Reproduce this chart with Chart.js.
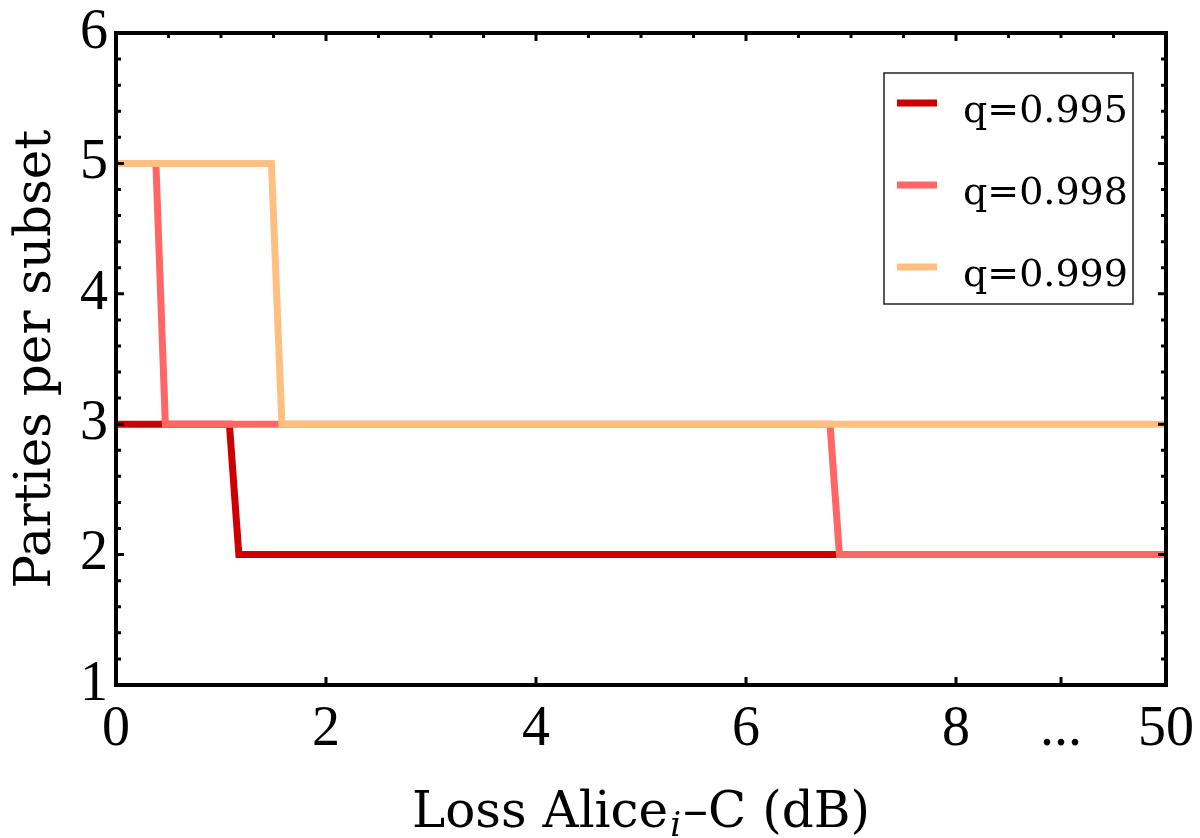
<!DOCTYPE html>
<html>
<head>
<meta charset="UTF-8">
<title>Parties per subset</title>
<script src="https://cdn.jsdelivr.net/npm/chart.js@4.4.1/dist/chart.umd.min.js"></script>
<style>
  html, body { margin: 0; padding: 0; background: #fff; }
  #wrap { width: 1200px; height: 838px; position: relative; }
</style>
</head>
<body>
<div id="wrap"><canvas id="partiesChart"></canvas></div>
<script>
// data (loss in dB, parties per subset)
const seriesLabels = ['q=0.995', 'q=0.998', 'q=0.999'];
const seriesColors = ['#cc0000', '#ff6666', '#ffbf80'];

const lossQ995 = [0, 1.08, 1.17, 50];
const partiesQ995 = [3, 3, 2, 2];

const lossQ998 = [0, 0.38, 0.47, 6.80, 6.89, 50];
const partiesQ998 = [5, 5, 3, 3, 2, 2];

const lossQ999 = [0, 1.48, 1.58, 50];
const partiesQ999 = [5, 5, 3, 3];

// broken axis: 0..8 linear, "..." at 9, 50 dB placed at 10
const xTickValues = [0, 2, 4, 6, 8, 9, 10];
const xTickLabels = ['0', '2', '4', '6', '8', '...', '50'];
const yTickValues = [1, 2, 3, 4, 5, 6];

function toAxis(loss) {
    return loss > 9 ? 10 : loss;
}

function points(xs, ys) {
    return xs.map((x, i) => ({ x: toAxis(x), y: ys[i] }));
}

const serifText = '"DejaVu Serif", serif';
const serifDigits = '"Liberation Serif", serif';

// no extra room for label overhang, the layout padding handles it
function noOverhang(s) {
    s.paddingLeft = 0; s.paddingRight = 0;
    s.paddingTop = 0; s.paddingBottom = 0;
}

// frame + inward ticks on all four sides, drawn over the lines
const framePlugin = {
    id: 'frame',
    afterDatasetsDraw(chart) {
        const ctx = chart.ctx;
        const a = chart.chartArea;
        const xs = chart.scales.x, ys = chart.scales.y;
        ctx.save();
        ctx.strokeStyle = '#000';
        ctx.lineCap = 'butt';

        ctx.lineWidth = 3;
        ctx.beginPath();
        // left / right: minor every 0.2, major every 1
        for (let k = 0; k <= 25; k++) {
            const v = 1 + k * 0.2;
            const py = ys.getPixelForValue(v);
            const len = k % 5 === 0 ? 8 : 5;
            ctx.moveTo(a.left, py); ctx.lineTo(a.left + len, py);
            ctx.moveTo(a.right, py); ctx.lineTo(a.right - len, py);
        }
        // top: minor every 0.5, major at 2,4,6,8
        for (let k = 1; k < 20; k++) {
            const v = k * 0.5;
            const px = xs.getPixelForValue(v);
            const len = (v % 2 === 0) ? 8 : 5;
            ctx.moveTo(px, a.top); ctx.lineTo(px, a.top + len);
        }
        // bottom: only at the labelled positions
        xTickValues.filter(v => v > 0 && v < 10).forEach(v => {
            const px = xs.getPixelForValue(v);
            ctx.moveTo(px, a.bottom); ctx.lineTo(px, a.bottom - 8);
        });
        ctx.stroke();

        ctx.lineWidth = 4;
        ctx.lineJoin = 'miter';
        ctx.strokeRect(a.left, a.top, a.right - a.left, a.bottom - a.top);
        ctx.restore();
    }
};

// axis titles and the boxed legend
const textPlugin = {
    id: 'texts',
    afterDraw(chart) {
        const ctx = chart.ctx;
        const a = chart.chartArea;
        ctx.save();
        ctx.fillStyle = '#000';

        // y title
        ctx.font = '50px ' + serifText;
        ctx.textAlign = 'center';
        ctx.textBaseline = 'alphabetic';
        ctx.translate(50, (a.top + a.bottom) / 2);
        ctx.rotate(-Math.PI / 2);
        ctx.fillText('Parties per subset', 0, 0);
        ctx.setTransform(1, 0, 0, 1, 0, 0);

        // x title with italic subscript i
        const base = 827;
        const p1 = 'Loss Alice', p2 = 'i', p3 = '\u2013C (dB)';
        const mainFont = '50px ' + serifText;
        const subFont = 'italic 34px ' + serifText;
        ctx.textAlign = 'left';
        ctx.font = mainFont; const w1 = ctx.measureText(p1).width; const w3 = ctx.measureText(p3).width;
        ctx.font = subFont; const w2 = ctx.measureText(p2).width + 4;
        let x = (a.left + a.right) / 2 - (w1 + w2 + w3) / 2;
        ctx.font = mainFont; ctx.fillText(p1, x, base); x += w1;
        ctx.font = subFont; ctx.fillText(p2, x + 2, base + 9); x += w2;
        ctx.font = mainFont; ctx.fillText(p3, x, base);

        // legend
        const lx = 884, ly = 73, lw = 249, lh = 231;
        ctx.fillStyle = '#fff';
        ctx.fillRect(lx, ly, lw, lh);
        ctx.strokeStyle = '#222';
        ctx.lineWidth = 1.5;
        ctx.strokeRect(lx, ly, lw, lh);
        ctx.font = '38px ' + serifText;
        chart.data.datasets.forEach((ds, i) => {
            const ry = ly + 30 + i * 82;
            ctx.strokeStyle = ds.borderColor;
            ctx.lineWidth = 7;
            ctx.beginPath();
            ctx.moveTo(lx + 13, ry); ctx.lineTo(lx + 53, ry);
            ctx.stroke();
            ctx.fillStyle = '#000';
            ctx.fillText(ds.label, lx + 79, ry + 19);
        });
        ctx.restore();
    }
};

const datasets = [
    { data: points(lossQ995, partiesQ995), order: 3 },
    { data: points(lossQ998, partiesQ998), order: 2 },
    { data: points(lossQ999, partiesQ999), order: 1 }
].map((d, i) => Object.assign(d, {
    label: seriesLabels[i],
    borderColor: seriesColors[i],
    backgroundColor: seriesColors[i],
    borderWidth: 7,
    pointRadius: 0,
    fill: false,
    tension: 0,
    borderJoinStyle: 'miter',
    borderCapStyle: 'butt'
}));

new Chart(document.getElementById('partiesChart'), {
    type: 'line',
    data: { datasets: datasets },
    options: {
        responsive: true,
        maintainAspectRatio: false,
        animation: false,
        layout: { padding: { top: 33, right: 34, left: 0, bottom: 0 } },
        plugins: { legend: { display: false }, tooltip: { enabled: false } },
        scales: {
            x: {
                type: 'linear', min: 0, max: 10,
                grid: { display: false, drawTicks: false },
                border: { display: false },
                afterBuildTicks: s => { s.ticks = xTickValues.map(v => ({ value: v })); },
                afterFit: s => { s.height = 153; noOverhang(s); },
                ticks: {
                    autoSkip: false, maxRotation: 0, padding: 12,
                    color: '#000',
                    font: { family: serifDigits, size: 56 },
                    callback: v => xTickLabels[xTickValues.indexOf(v)]
                }
            },
            y: {
                type: 'linear', min: 1, max: 6,
                grid: { display: false, drawTicks: false },
                border: { display: false },
                afterBuildTicks: s => { s.ticks = yTickValues.map(v => ({ value: v })); },
                afterFit: s => { s.width = 116; noOverhang(s); },
                ticks: {
                    padding: 8, color: '#000',
                    font: { family: serifDigits, size: 56 }
                }
            }
        }
    },
    plugins: [framePlugin, textPlugin]
});
</script>
</body>
</html>
